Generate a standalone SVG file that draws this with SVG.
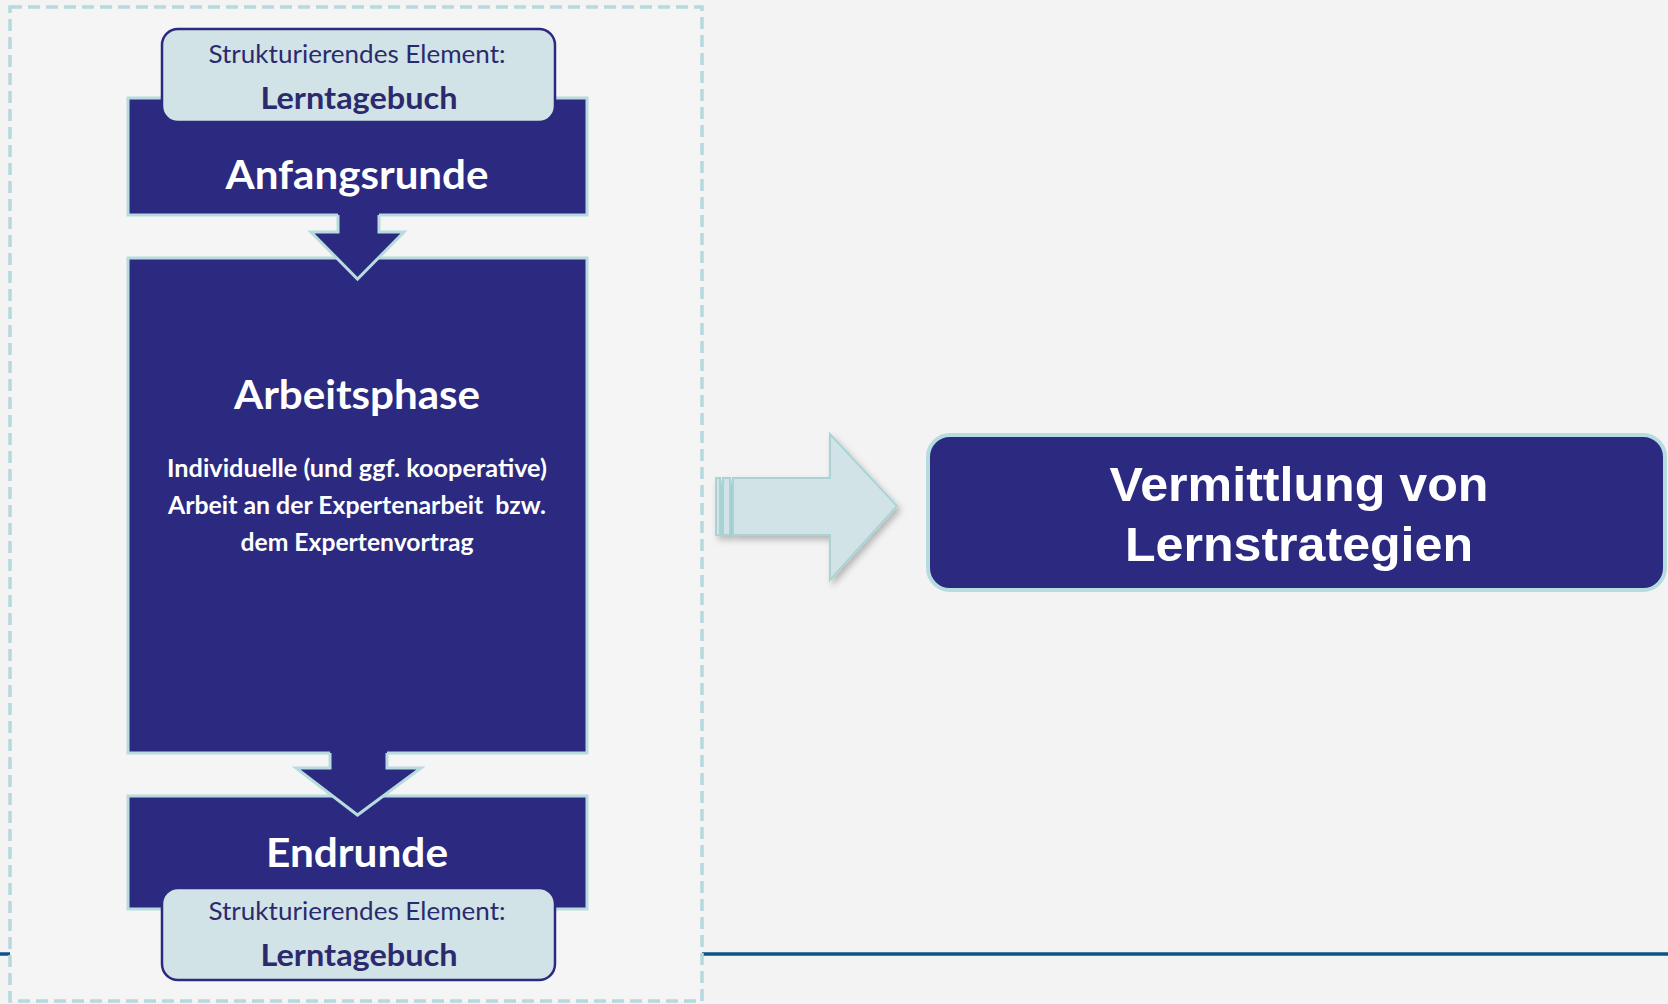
<svg xmlns="http://www.w3.org/2000/svg" width="1668" height="1004" viewBox="0 0 1668 1004">
  <style>
    .phase { fill: #2b2a80; stroke: #b7dcdf; stroke-width: 3; }
    .tag { fill: #d1e3e6; stroke: #2b2a80; stroke-width: 2.5; }
    .flow { fill: #2b2a80; }
    .flow-edge { fill: none; stroke: #b7dcdf; stroke-width: 3; stroke-linejoin: miter; }
    .cal { font-family: Lato, "Noto Sans", sans-serif; text-anchor: middle; }
    .small { font-size: 25px; fill: #2b2a6e; }
    .tagname { font-size: 31px; font-weight: bold; fill: #2b2a6e; }
    .title { font-size: 41px; font-weight: bold; fill: #ffffff; }
    .body { font-size: 24px; font-weight: bold; fill: #ffffff; }
    .big { font-family: "Liberation Sans", Arial, sans-serif; font-size: 49px; font-weight: bold; fill: #ffffff; text-anchor: middle; }
  </style>
  <defs>
    <filter id="shadow" x="-20%" y="-20%" width="150%" height="150%">
      <feDropShadow dx="3" dy="4" stdDeviation="3" flood-color="#000000" flood-opacity="0.25"/>
    </filter>
  </defs>

  <!-- page background -->
  <rect x="0" y="0" width="1668" height="1004" fill="#f3f3f3"/>

  <!-- footer rule -->
  <line x1="0" y1="954" x2="10" y2="954" stroke="#0a5587" stroke-width="3.5"/>
  <line x1="702" y1="954" x2="1668" y2="954" stroke="#0a5587" stroke-width="3.5"/>

  <!-- dashed frame around the lesson sequence -->
  <rect id="frame" x="10" y="7" width="692" height="994" fill="#f5f5f5" stroke="#b5d9dc" stroke-width="3.5" stroke-dasharray="12 6"/>

  <!-- phases -->
  <g id="anfangsrunde">
    <rect class="phase" x="128" y="98" width="459" height="117"/>
    <text class="cal title" x="357" y="189" textLength="263" lengthAdjust="spacingAndGlyphs">Anfangsrunde</text>
  </g>

  <g id="arbeitsphase">
    <rect class="phase" x="128" y="258" width="459" height="495"/>
    <text class="cal title" x="357" y="409" textLength="246" lengthAdjust="spacingAndGlyphs">Arbeitsphase</text>
    <text class="cal body" x="357" y="477" textLength="380" lengthAdjust="spacingAndGlyphs">Individuelle (und ggf. kooperative)</text>
    <text class="cal body" x="357" y="514" textLength="378" lengthAdjust="spacingAndGlyphs" xml:space="preserve">Arbeit an der Expertenarbeit  bzw.</text>
    <text class="cal body" x="357" y="551" textLength="233" lengthAdjust="spacingAndGlyphs">dem Expertenvortrag</text>
  </g>

  <g id="endrunde">
    <rect class="phase" x="128" y="796" width="459" height="113"/>
    <text class="cal title" x="357" y="867" textLength="182" lengthAdjust="spacingAndGlyphs">Endrunde</text>
  </g>

  <!-- connectors -->
  <g id="connectors">
    <g id="arrow-anfang-arbeit">
      <polygon class="flow" points="338,213 379,213 379,232 404,232 357.5,279 311,232 338,232"/>
      <polyline class="flow-edge" points="338,215 338,232 311,232 357.5,279 404,232 379,232 379,215"/>
    </g>
    <g id="arrow-arbeit-end">
      <polygon class="flow" points="330,751 387,751 387,768 421,768 357.5,815 296,768 330,768"/>
      <polyline class="flow-edge" points="330,753 330,768 296,768 357.5,815 421,768 387,768 387,753"/>
    </g>
    <g id="arrow-to-strategien" filter="url(#shadow)" fill="#d1e3e6" stroke="#a9d4d6" stroke-width="2">
      <rect x="716" y="478" width="4" height="57"/>
      <rect x="723" y="478" width="7" height="57"/>
      <polygon points="733,478 830,478 830,434 897,506 830,580 830,535 733,535"/>
    </g>
  </g>

  <!-- structuring element tags -->
  <g id="lerntagebuch-start">
    <rect class="tag" x="162" y="29" width="393" height="93" rx="16"/>
    <text class="cal small" x="357" y="63" textLength="297" lengthAdjust="spacingAndGlyphs">Strukturierendes Element:</text>
    <text class="cal tagname" x="359" y="109" textLength="197" lengthAdjust="spacingAndGlyphs">Lerntagebuch</text>
  </g>

  <g id="lerntagebuch-end">
    <rect class="tag" x="162" y="888" width="393" height="92" rx="16"/>
    <text class="cal small" x="357" y="920" textLength="297" lengthAdjust="spacingAndGlyphs">Strukturierendes Element:</text>
    <text class="cal tagname" x="359" y="966" textLength="197" lengthAdjust="spacingAndGlyphs">Lerntagebuch</text>
  </g>

  <!-- outcome -->
  <g id="lernstrategien">
    <rect x="928" y="435" width="737" height="155" rx="22" fill="#2b2a80" stroke="#b7dcdf" stroke-width="4"/>
    <text class="big" x="1299" y="501" textLength="379" lengthAdjust="spacingAndGlyphs">Vermittlung von</text>
    <text class="big" x="1299" y="561" textLength="348" lengthAdjust="spacingAndGlyphs">Lernstrategien</text>
  </g>
</svg>
